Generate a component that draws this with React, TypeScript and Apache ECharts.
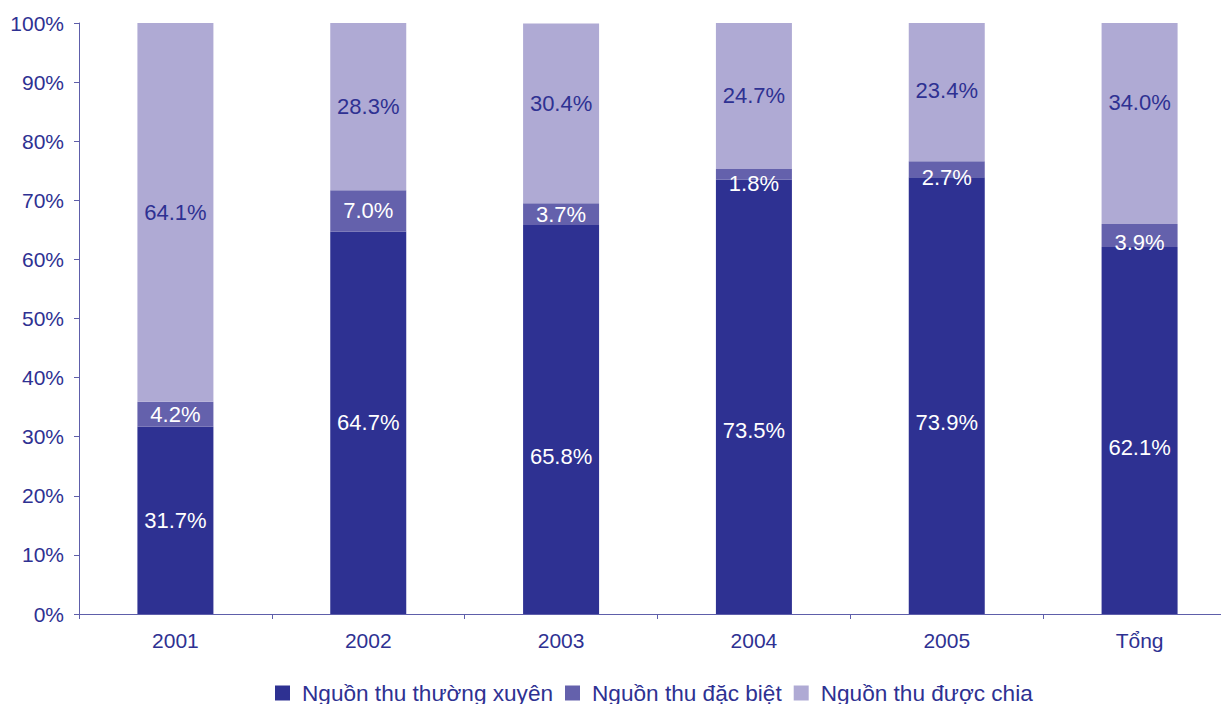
import React, { useEffect, useRef } from "react";
import * as echarts from "echarts";

const categories = ["2001", "2002", "2003", "2004", "2005", "Tổng"];
const seriesNames = ["Nguồn thu thường xuyên", "Nguồn thu đặc biệt", "Nguồn thu được chia"];
const regular = [31.7, 64.7, 65.8, 73.5, 73.9, 62.1];
const special = [4.2, 7.0, 3.7, 1.8, 2.7, 3.9];
const shared = [64.1, 28.3, 30.4, 24.7, 23.4, 34.0];

// label nudges (px) so labels sit where the original placed them
const regularLabelDy = [0, 0, 37, 34, 27, 17];
const specialLabelDy = [0, 0, 0, 9, 8, 7];
const sharedLabelDy = [0, 0, -10, 0, -2, -21];

const FONT = "'Liberation Sans', Arial, sans-serif";
const DARK = "#2E3192";
const MID = "#6461AC";
const LIGHT = "#AFAAD4";
const AXIS = "#5E5EAA";

export default function App() {
  const ref = useRef<HTMLDivElement>(null);
  useEffect(() => {
    if (!ref.current) return;
    document.body.style.overflow = "hidden";
    const chart = echarts.init(ref.current, null, { renderer: "svg" });
    const mkLabel = (color: string) => ({
      show: true,
      position: "inside",
      color,
      fontFamily: FONT,
      fontSize: 22,
      formatter: (p: any) => Number(p.value).toFixed(1) + "%",
    });
    const withOffsets = (vals: number[], dys: number[]) =>
      vals.map((v, i) => ({ value: v, label: { offset: [0, dys[i]] } }));
    chart.setOption({
      animation: false,
      textStyle: { fontFamily: FONT },
      grid: { left: 79, top: 23, height: 591, right: 4, containLabel: false },
      legend: {
        data: seriesNames,
        top: 675,
        left: 270,
        itemWidth: 15,
        itemHeight: 15,
        itemGap: 12,
        icon: "rect",
        textStyle: { color: DARK, fontSize: 22.6, lineHeight: 26, fontFamily: FONT, padding: [0, 0, 0, 7] },
      },
      xAxis: {
        type: "category",
        data: categories,
        axisLine: { lineStyle: { color: AXIS, width: 1 } },
        axisTick: { show: true, length: 5, lineStyle: { color: AXIS } },
        axisLabel: { color: DARK, fontSize: 21, fontFamily: FONT, margin: 16 },
      },
      yAxis: {
        type: "value",
        min: 0,
        max: 100,
        interval: 10,
        splitLine: { show: false },
        axisLine: { show: true, lineStyle: { color: AXIS, width: 1 } },
        axisTick: { show: true, length: 5, lineStyle: { color: AXIS } },
        axisLabel: { color: DARK, fontSize: 21, fontFamily: FONT, margin: 15, formatter: "{value}%" },
      },
      series: [
        {
          name: seriesNames[0],
          type: "bar",
          stack: "total",
          data: withOffsets(regular, regularLabelDy),
          barWidth: 76,
          itemStyle: { color: DARK },
          label: mkLabel("#FFFFFF"),
        },
        {
          name: seriesNames[1],
          type: "bar",
          stack: "total",
          data: withOffsets(special, specialLabelDy),
          barWidth: 76,
          itemStyle: { color: MID },
          label: mkLabel("#FFFFFF"),
        },
        {
          name: seriesNames[2],
          type: "bar",
          stack: "total",
          data: withOffsets(shared, sharedLabelDy),
          barWidth: 76,
          itemStyle: { color: LIGHT },
          label: mkLabel(DARK),
        },
      ],
    });
    return () => chart.dispose();
  }, []);
  return (
    <div
      ref={ref}
      style={{ position: "fixed", left: 0, top: 0, width: 1240, height: 704, background: "#fff" }}
    />
  );
}
